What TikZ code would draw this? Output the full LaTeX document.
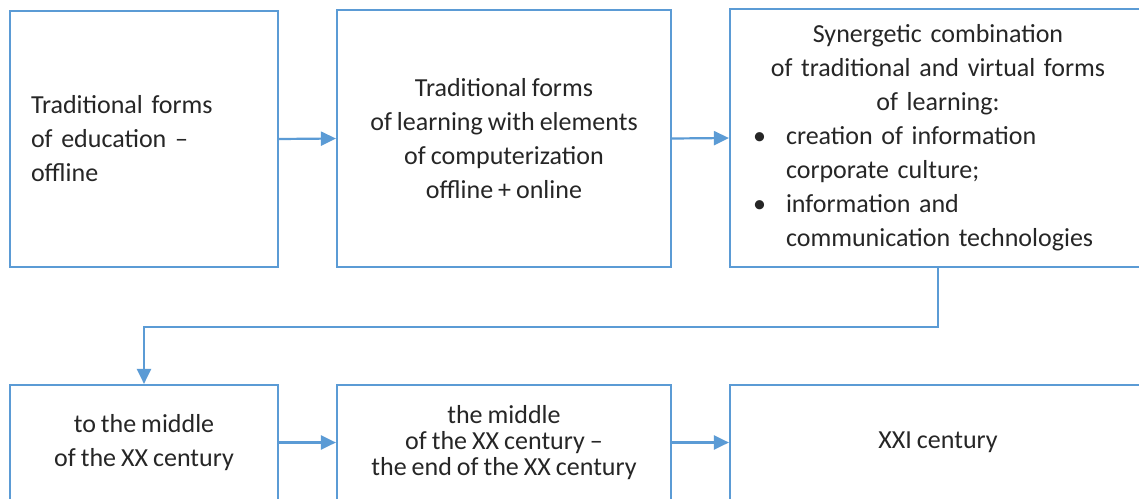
\documentclass[tikz,border=0pt]{standalone}
\usepackage{fontspec}
\setmainfont[WordSpace=0.85]{Carlito}
\usetikzlibrary{arrows.meta}
\definecolor{boxblue}{RGB}{91,155,213}
\definecolor{ink}{RGB}{38,38,38}
\tikzset{
  stage/.style={draw=boxblue, line width=2.2pt, rectangle, text=ink,
    font=\fontsize{26}{34}\selectfont, inner sep=0pt},
  flow/.style={draw=boxblue, line width=2.2pt,
    -{Triangle[length=15pt,width=14pt]}},
}
\begin{document}
\begin{tikzpicture}[x=1pt,y=-1pt]
\useasboundingbox (0,0) rectangle (1139,498);
\clip (0,0) rectangle (1139,498);
\fill[white] (0,0) rectangle (1139,498);

% upper row: forms of learning
\node[stage, minimum width=268pt, minimum height=256pt, text width=226pt, align=left]
  (b1) at (144,139) {Traditional forms\\of education --\\offline};
\node[stage, minimum width=334pt, minimum height=257pt, align=center]
  (b2) at (504,138.5) {Traditional forms\\of learning with elements\\of computerization\\offline + online};
\node[stage, minimum width=416pt, minimum height=258pt, text width=370pt]
  (b3) at (938,138) {%
  {\centering Synergetic combination\\of traditional and virtual forms\\of learning:\par}
  \noindent\makebox[33pt][l]{\textbullet}creation of information\par
  \noindent\hspace*{33pt}corporate culture;\par
  \noindent\makebox[33pt][l]{\textbullet}information and\par
  \noindent\hspace*{33pt}communication technologies\par};

% lower row: periods
\node[stage, minimum width=268pt, minimum height=115pt, align=center]
  (b4) at (144,442.5) {to the middle\\of the XX century};
\node[stage, minimum width=334pt, minimum height=115pt, align=center,
  font=\fontsize{26}{26}\selectfont]
  (b5) at (504,442.5) {the middle\\of the XX century --\\the end of the XX century};
\node[stage, minimum width=416pt, minimum height=115pt, align=center]
  (b6) at (938,442.5) {XXI century};

% connectors
\draw[flow] (b1.east) -- (b2.west);
\draw[flow] (b2.east) -- (b3.west);
\draw[flow] (b3.south) -- ++(0,59) -| (b4.north);
\draw[flow] (b4.east) -- (b5.west);
\draw[flow] (b5.east) -- (b6.west);
\end{tikzpicture}
\end{document}
